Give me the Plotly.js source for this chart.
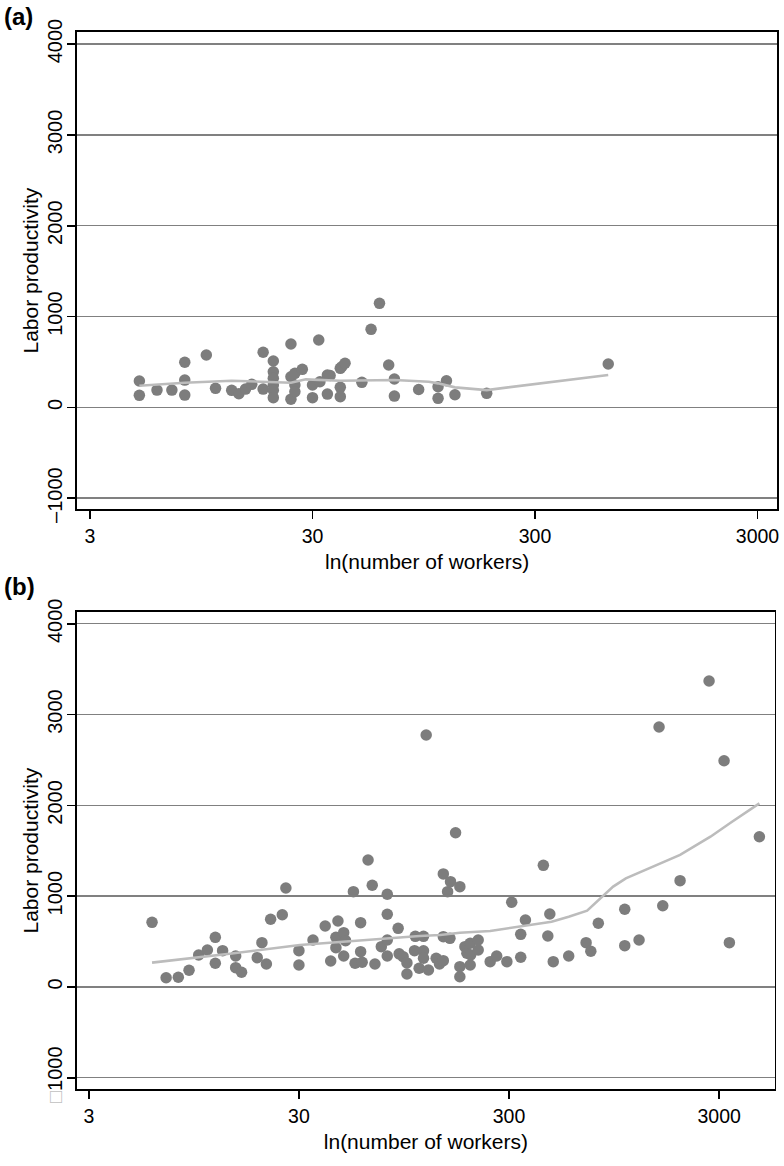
<!DOCTYPE html>
<html>
<head>
<meta charset="utf-8">
<script src="https://cdn.plot.ly/plotly-3.0.1.min.js"></script>
<style>
  html, body { margin: 0; padding: 0; background: #ffffff; }
  #chart { width: 784px; height: 1166px; }
</style>
</head>
<body>
<div id="chart"></div>
<script>
// ---------- Panel (a) data ----------
const workersA = [5, 5, 6, 7, 8, 8, 8, 10, 11, 13, 14, 15, 16, 18, 18,
  20, 20, 20, 20, 20, 20, 24, 24, 24, 25, 25, 25, 27, 30, 30,
  32, 32.4, 35, 36, 35, 40, 40.6, 42, 40, 40, 50, 55, 60, 66, 70,
  70, 90, 110, 110, 120, 131, 182, 640];
const productivityA = [290, 132, 190, 190, 496, 300, 135, 576, 209, 187, 150, 201, 253, 606, 201,
  510, 392, 319, 246, 187, 106, 697, 337, 90, 374, 246, 172, 418, 246, 106,
  741, 282, 356, 350, 146, 429, 447, 485, 220, 117, 275, 859, 1145, 466, 312,
  124, 196, 99, 227, 293, 139, 154, 477];
const smoothWorkersA = [5, 8, 13, 20, 24, 28, 40, 70, 100, 110, 131, 182, 640];
const smoothProdA = [238, 271, 293, 282, 271, 308, 293, 301, 282, 264, 220, 190, 356];

// ---------- Panel (b) data ----------
const workersB = [6, 7, 8, 9, 10, 11, 12, 12, 13, 15, 15, 16, 19, 20, 21, 22, 25, 26,
  30, 30, 35, 40, 42.5, 45, 45, 46, 49, 49, 50, 54.5, 55.5, 59, 59, 60, 64, 67, 69,
  74, 79, 79, 79, 79, 89, 90, 94, 98, 98, 106.5, 107.4, 112, 117.5, 117.5, 117.5,
  121, 124, 135, 140, 146, 146, 146, 153, 157, 158, 167, 175, 175, 175, 185, 189,
  196, 196, 197, 214, 214, 244, 262, 293, 309, 341, 341, 359, 437, 459, 469, 487,
  577, 698, 735, 798, 1066, 1066, 1247, 1553, 1617, 1955, 2686, 3166, 3356, 4662];
const productivityB = [712, 102, 107, 184, 352, 407, 547, 261, 400, 341, 213, 162, 323, 488, 253, 746, 796, 1090,
  400, 242, 518, 672, 286, 547, 433, 727, 598, 341, 510, 1050, 261, 389, 708, 272, 1399, 1120, 253,
  444, 1021, 801, 518, 341, 646, 365, 334, 265, 143, 400, 558, 206, 558, 398, 316,
  2775, 187, 316, 253, 290, 554, 1245, 1050, 536, 1160, 1699, 1105, 224, 113, 444, 371,
  481, 242, 352, 518, 407, 279, 341, 279, 933, 580, 327, 738, 1340, 562, 804, 279,
  341, 488, 393, 702, 856, 455, 518, 2863, 895, 1171, 3370, 2492, 488, 1655];
const smoothWorkersB = [6, 14.7, 30.3, 58.8, 73.3, 112.6, 140.8, 175, 244, 337, 478, 577, 706, 939, 1079, 1955, 2727, 3400, 4662];
const smoothProdB = [268, 371, 463, 515, 530, 562, 573, 598, 617, 664, 719, 774, 840, 1105, 1197, 1454, 1655, 1809, 2023];

// ---------- Axis labels ----------
const xTickVals = [3, 30, 300, 3000];
const xTickText = ['3', '30', '300', '3000'];
const yTickVals = [-1000, 0, 1000, 2000, 3000, 4000];
const yTickTextA = ['\u20131000', '0', '1000', '2000', '3000', '4000'];
const yTickTextB = ['<span style="color:#c0c0c0">\u25A1</span>1000', '0', '1000', '2000', '3000', '4000'];
const xTitle = 'ln(number of workers)';
const yTitle = 'Labor productivity';

// ---------- Styling ----------
const FONT = 'Liberation Sans, Arial, Helvetica, sans-serif';
const markerStyle = { color: 'rgb(125,125,125)', size: 11.5, line: { width: 0 } };
const lineStyle = { color: 'rgb(188,188,188)', width: 2.6 };

const traces = [
  { x: workersA, y: productivityA, type: 'scatter', mode: 'markers', marker: markerStyle, xaxis: 'x', yaxis: 'y', hoverinfo: 'x+y' },
  { x: smoothWorkersA, y: smoothProdA, type: 'scatter', mode: 'lines', line: lineStyle, xaxis: 'x', yaxis: 'y' },
  { x: workersB, y: productivityB, type: 'scatter', mode: 'markers', marker: markerStyle, xaxis: 'x2', yaxis: 'y2', hoverinfo: 'x+y' },
  { x: smoothWorkersB, y: smoothProdB, type: 'scatter', mode: 'lines', line: lineStyle, xaxis: 'x2', yaxis: 'y2' }
];

function xAxis(domain, range, anchor) {
  return {
    type: 'log', domain: domain, range: range, anchor: anchor,
    tickvals: xTickVals, ticktext: xTickText,
    ticks: 'outside', ticklen: 8, tickwidth: 1.6, tickcolor: '#000',
    showgrid: false, zeroline: false,
    showline: true, mirror: true, linecolor: '#000', linewidth: 1.8,
    tickfont: { family: FONT, size: 19.5, color: '#000' },
    title: { text: xTitle, font: { family: FONT, size: 21, color: '#000' }, standoff: 9 },
    automargin: false
  };
}
function yAxis(domain, range, anchor, ticktext) {
  return {
    domain: domain, range: range, anchor: anchor,
    tickvals: yTickVals, ticktext: ticktext, tickangle: -90,
    ticks: 'outside', ticklen: 8, tickwidth: 1.6, tickcolor: '#000',
    ticklabelstandoff: -3,
    showgrid: true, gridcolor: 'rgb(128,128,128)', gridwidth: 1.4,
    zeroline: false,
    showline: true, mirror: true, linecolor: '#000', linewidth: 1.8,
    tickfont: { family: FONT, size: 20, color: '#000' },
    title: { text: yTitle, font: { family: FONT, size: 21, color: '#000' }, standoff: 0 },
    automargin: false
  };
}

const W = 784, H = 1166;
const layout = {
  width: W, height: H,
  margin: { l: 0, r: 0, t: 0, b: 0 },
  paper_bgcolor: '#ffffff', plot_bgcolor: '#ffffff',
  showlegend: false,
  font: { family: FONT, color: '#000' },
  xaxis: xAxis([77.2 / W, 777 / W], [0.4196, 3.5647], 'y'),
  yaxis: yAxis([1 - 509.3 / H, 1 - 32 / H], [-1123, 4133], 'x', yTickTextA),
  xaxis2: xAxis([77.2 / W, 774.6 / W], [0.4219, 3.741], 'y2'),
  yaxis2: yAxis([1 - 1089.3 / H, 1 - 612 / H], [-1127, 4130], 'x2', yTickTextB),
  annotations: [
    { text: '<b>(a)</b>', xref: 'paper', yref: 'paper', x: 2 / W, y: 1 - 1 / H, xanchor: 'left', yanchor: 'top', showarrow: false, font: { family: FONT, size: 24, color: '#000' } },
    { text: '<b>(b)</b>', xref: 'paper', yref: 'paper', x: 2 / W, y: 1 - 571 / H, xanchor: 'left', yanchor: 'top', showarrow: false, font: { family: FONT, size: 24, color: '#000' } }
  ]
};

Plotly.newPlot('chart', traces, layout, { staticPlot: true, displayModeBar: false });
</script>
</body>
</html>
